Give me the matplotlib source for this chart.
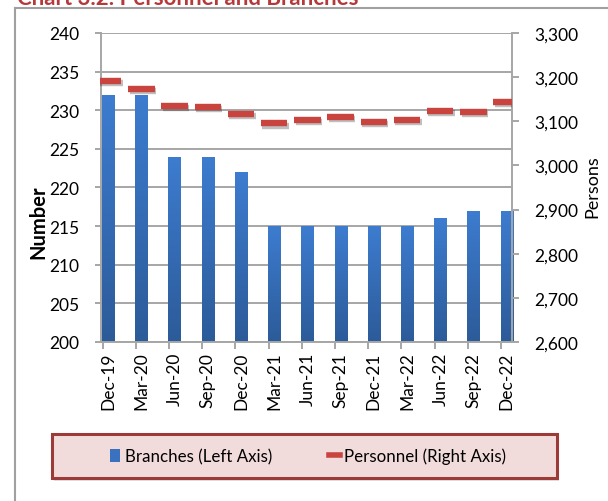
import numpy as np
import matplotlib
matplotlib.use("Agg")
import matplotlib.pyplot as plt
import matplotlib.patheffects as pe
from matplotlib.colors import LinearSegmentedColormap
from matplotlib.patches import Rectangle
from matplotlib.lines import Line2D
from matplotlib.ticker import FuncFormatter

plt.rcParams['font.family'] = ['Lato', 'DejaVu Sans']

quarters = ['Dec-19', 'Mar-20', 'Jun-20', 'Sep-20', 'Dec-20', 'Mar-21', 'Jun-21',
            'Sep-21', 'Dec-21', 'Mar-22', 'Jun-22', 'Sep-22', 'Dec-22']
branches = [232, 232, 224, 224, 222, 215, 215, 215, 215, 215, 216, 217, 217]
personnel = [3192, 3174, 3135, 3133, 3117, 3095, 3104, 3109, 3099, 3102, 3124, 3122, 3144]

W, H = 608, 502
fig = plt.figure(figsize=(W / 100, H / 100), dpi=100)

# outer chart frame (only top and left edge visible)
fig.add_artist(Line2D([15 / W, 15 / W], [0, 1 - 9 / H], color='#a0a0a0', lw=1.5))
fig.add_artist(Line2D([15 / W, 1], [1 - 9 / H, 1 - 9 / H], color='#a0a0a0', lw=1.5))

# title, mostly cut off at the top like the source
fig.text(17 / W, 1 - 5 / H, 'Chart 3.2: Personnel and Branches', color='#b5383a',
         fontsize=16, fontweight='bold', ha='left', va='baseline')

ax = fig.add_axes([100.5 / W, 1 - 343 / H, 411.5 / W, 309 / H])
x = np.arange(len(quarters))
grid_c = '#a6a6a6'

bars = ax.bar(x, branches, width=0.37, color='#3a72c0', zorder=2)
cmap = LinearSegmentedColormap.from_list('bl', ['#2c5b99', '#3d7ccf'])
grad = np.linspace(0, 1, 100).reshape(-1, 1)
for b in bars:
    im = ax.imshow(grad, extent=[b.get_x(), b.get_x() + b.get_width(), 200, b.get_height()],
                   origin='lower', aspect='auto', cmap=cmap, zorder=2.1)
    im.set_clip_path(b)

ax.set_xlim(-0.232, 12.16)
ax.set_ylim(200, 240)
ax.set_yticks(np.arange(200, 241, 5))
ax.yaxis.grid(True, color=grid_c, lw=1.4)
ax.set_axisbelow(True)
for s in ['left', 'bottom', 'right']:
    ax.spines[s].set_color(grid_c)
    ax.spines[s].set_linewidth(1.4)
ax.spines['top'].set_visible(False)

ax.set_xticks(x)
ax.set_xticklabels(quarters, rotation=90, va='top', ha='center')
ax.set_xticks(x - 0.17, minor=True)
ax.tick_params(axis='x', which='major', length=0, pad=7, labelsize=12.5)
ax.tick_params(axis='x', which='minor', length=5, width=1.4, color=grid_c)
ax.tick_params(axis='y', length=4, width=1.4, color=grid_c, pad=11, labelsize=12.5)

ax2 = ax.twinx()
ax2.set_ylim(2600, 3300)
ax2.set_yticks(np.arange(2600, 3301, 100))
ax2.yaxis.set_major_formatter(FuncFormatter(lambda v, p: f'{int(v):,}'))
ax2.tick_params(axis='y', length=5, width=1.4, color=grid_c, pad=11, labelsize=12.5)
for s in ['left', 'bottom', 'right', 'top']:
    ax2.spines[s].set_visible(False)
ax2.plot(x, personnel, ls='none', marker='_', ms=19, mew=4.6, color='#c9443f', zorder=3,
         path_effects=[pe.SimpleLineShadow(offset=(1, -1.5), alpha=0.25), pe.Normal()])

fig.text(38 / W, 1 - 222 / H, 'Number', rotation=90, fontsize=14.5, fontweight='bold',
         ha='center', va='center')
fig.text(592 / W, 1 - 187 / H, 'Persons', rotation=90, fontsize=13,
         ha='center', va='center')

# legend box
fig.add_artist(Rectangle((54 / W, 1 - 482 / H), 505 / W, 44 / H, facecolor='#cccccc',
                         edgecolor='none', alpha=0.6, transform=fig.transFigure))
fig.add_artist(Rectangle((52 / W, 1 - 479 / H), 505 / W, 44 / H, facecolor='#f2dcdb',
                         edgecolor='#9b3a38', lw=2.2, transform=fig.transFigure))
handles = [Rectangle((0, 0), 1, 1, facecolor='#3a72c0'),
           Line2D([], [], color='#c9443f', lw=4)]
fig.legend(handles, ['Branches (Left Axis)', 'Personnel (Right Axis)'], ncol=2,
           loc='center', bbox_to_anchor=(308 / W, 1 - 457 / H), frameon=False,
           fontsize=12.2, handlelength=0.6, handleheight=0.75, handletextpad=0.25,
           columnspacing=3.4)

fig.savefig('out.png', dpi=100)
